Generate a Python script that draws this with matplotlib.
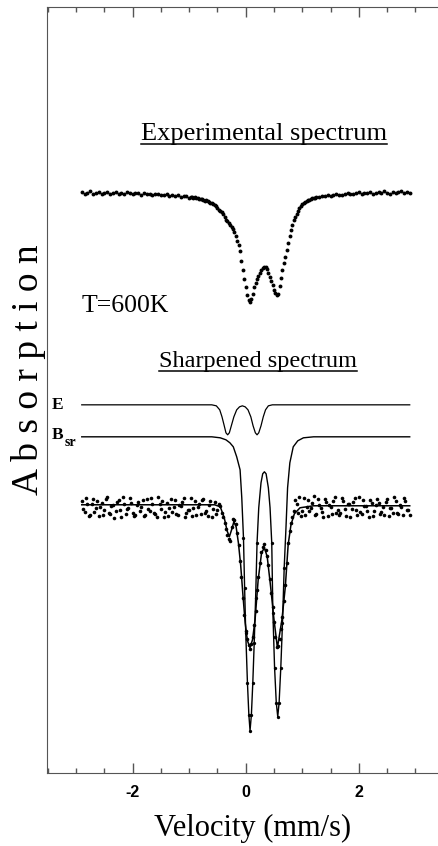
import matplotlib
matplotlib.use("Agg")
import matplotlib.pyplot as plt
from matplotlib.ticker import MultipleLocator
import numpy as np

plt.rcParams['font.family'] = ['Liberation Serif', 'DejaVu Serif']
plt.rcParams['axes.unicode_minus'] = False

#Data##########################################################################
# velocity channels (mm/s), two interleaved sweeps
vel_a = np.round(np.linspace(-2.9, 2.9, 117), 3)
vel_b = np.round(np.linspace(-2.875, 2.875, 116), 3)
vel_exp_fine = np.round(np.linspace(-0.975, 1.225, 45), 3)

# experimental spectrum, T=600K (arbitrary absorption units)
exp_abs_a = [58.1, 57.9, 58.0, 58.2, 57.9, 58.0, 58.1, 57.9, 58.0, 58.1,
             57.9, 58.0, 58.1, 57.9, 58.0, 57.9, 58.1, 58.0, 57.9, 58.0,
             58.0, 57.8, 58.0, 57.9, 57.9, 57.8, 57.9, 57.9, 57.8, 57.8,
             57.9, 57.7, 57.8, 57.7, 57.8, 57.6, 57.7, 57.7, 57.5,
             57.6, 57.6, 57.5, 57.4, 57.3, 57.3, 57.1, 57.0, 56.8, 56.5,
             56.2, 55.9, 55.3, 55.0, 54.6, 54.1, 53.2, 52.2, 50.3, 48.6,
             47.3, 47.4, 48.6, 49.4, 50.0, 50.5, 50.6, 50.0, 49.2, 48.3,
             47.8, 48.7, 50.3, 51.6, 53.0, 54.3, 55.3, 55.9, 56.5, 56.9,
             57.1, 57.3, 57.4, 57.5, 57.6,
             57.6, 57.7, 57.7, 57.8, 57.7, 57.8, 57.9, 57.8, 57.8, 57.9,
             58.0, 57.9, 57.9, 58.0, 58.1, 57.9, 58.0, 58.0, 58.1, 57.9,
             58.0, 58.1, 58.0, 58.2, 58.0, 57.9, 58.1, 58.0, 58.1, 58.2,
             58.0, 58.1, 58.0]
exp_abs_fine = [57.6, 57.5, 57.5, 57.4, 57.4, 57.2, 57.2, 57.0, 56.9, 56.7,
                56.3, 56.1, 55.6, 55.2, 54.8, 54.4, 53.7, 52.8, 51.2, 49.4,
                47.8, 47.1, 47.9, 49.0, 49.7, 50.3, 50.6, 50.4, 49.6, 48.8,
                48.0, 47.9, 49.5, 51.0, 52.3, 53.7, 54.8, 55.6, 56.2, 56.7,
                57.0, 57.2, 57.3, 57.5, 57.5]

# sharpened spectrum data points
sharp_abs_a = [27.2, 26.1, 26.9, 25.8, 27.4, 26.5, 25.7, 27.0, 26.3, 27.6,
               25.9, 26.8, 26.2, 27.3, 25.6, 26.9, 26.4, 27.5, 26.0, 25.8,
               27.1, 26.6, 25.7, 27.4, 26.2, 26.9, 25.9, 27.6, 26.4, 25.6,
               27.0, 26.5, 26.1, 27.3, 25.8, 26.7, 27.5, 26.0, 26.3, 25.7,
               27.2, 26.6, 25.9, 27.4, 26.2, 26.8, 25.6, 27.1,
               26.3, 26.7, 25.6, 24.4, 23.4, 24.6, 25.3, 24.0, 21.2, 17.5,
               14.2, 12.8, 12.9, 14.8, 18.3, 21.0, 22.6, 22.3, 20.8, 18.0,
               15.1, 12.6, 13.4, 15.6, 18.8, 23.0, 25.0, 26.2,
               26.9, 27.6, 26.2, 25.8, 27.3, 26.5, 27.7, 25.9, 26.8, 26.1,
               27.4, 25.7, 26.6, 27.2, 26.0, 25.8, 27.5, 26.4, 26.9, 25.6,
               27.1, 26.3, 27.6, 25.9, 26.7, 26.2, 27.3, 25.7, 26.8, 27.0,
               26.1, 25.8, 27.4, 26.5, 26.0, 27.2, 25.9, 26.6, 27.5, 26.3,
               25.8]
sharp_abs_b = [26.4, 27.5, 25.7, 26.9, 26.1, 27.2, 26.6, 25.8, 27.4, 26.0,
               26.7, 25.5, 27.1, 26.3, 27.6, 25.9, 26.5, 27.0, 25.7, 26.8,
               26.2, 27.3, 25.8, 26.4, 27.5, 26.0, 25.6, 26.9, 27.2, 26.1,
               25.7, 27.4, 26.6, 25.9, 26.8, 27.1, 25.6, 26.3, 27.5, 26.5,
               25.8, 26.9, 27.3, 26.0, 25.7, 27.2, 26.4, 25.9,
               26.9, 26.0, 25.0, 23.8, 23.2, 25.4, 24.9, 22.8, 19.6, 15.8,
               13.4, 12.4, 13.6, 16.2, 19.6, 22.1, 22.9, 21.7, 19.4, 16.6,
               13.6, 12.7, 14.4, 17.2, 21.0, 24.2, 25.6,
               27.3, 26.0, 25.7, 27.5, 26.6, 26.2, 27.0, 25.8, 27.4, 26.5,
               25.6, 27.1, 26.8, 25.9, 27.6, 26.3, 26.0, 27.2, 25.7, 26.9,
               26.4, 27.5, 25.8, 26.1, 27.3, 26.7, 25.6, 27.0, 26.2, 27.4,
               25.9, 26.6, 27.1, 25.7, 26.5, 27.6, 26.0, 26.8, 25.8, 27.2,
               26.3]

# fit through the sharpened data
fit_vel = [-2.9, -0.55, -0.45, -0.38, -0.33, -0.29, -0.25, -0.21, -0.17, -0.13,
           -0.09, -0.05, -0.01, 0.03, 0.076, 0.12, 0.165, 0.22, 0.28, 0.33,
           0.38, 0.44, 0.50, 0.56, 0.64, 0.70, 0.75, 0.80, 0.86, 0.96, 1.2, 2.9]
fit_abs = [26.8, 26.8, 26.6, 25.5, 24.2, 23.6, 24.3, 25.1, 24.6, 23.0,
           20.8, 17.8, 15.0, 13.2, 12.5, 13.3, 15.3, 19.3, 22.0, 22.5,
           21.6, 18.6, 15.3, 12.5, 15.3, 18.6, 22.8, 24.8, 25.9, 26.5, 26.7, 26.7]

# component E
E_vel = [-2.9, -0.60, -0.52, -0.46, -0.42, -0.38, -0.35, -0.32, -0.29, -0.25,
         -0.21, -0.16, -0.11, -0.06, -0.01, 0.04, 0.09, 0.13, 0.17, 0.20,
         0.23, 0.27, 0.31, 0.35, 0.40, 0.47, 2.9]
E_abs = [36.8, 36.8, 36.7, 36.3, 35.6, 34.7, 34.0, 33.8, 34.0, 34.8,
         35.6, 36.3, 36.6, 36.7, 36.6, 36.3, 35.6, 34.7, 34.0, 33.8,
         34.0, 34.7, 35.6, 36.3, 36.7, 36.8, 36.8]

# component Bsr
Bsr_vel = [-2.9, -0.60, -0.45, -0.35, -0.28, -0.22, -0.16, -0.10, -0.07, -0.04,
           -0.02, 0.00, 0.03, 0.055, 0.076, 0.10, 0.125, 0.15, 0.175, 0.20,
           0.23, 0.27, 0.30, 0.33, 0.36, 0.40, 0.43, 0.46, 0.48, 0.51,
           0.54, 0.566, 0.59, 0.62, 0.65, 0.68, 0.71, 0.74, 0.78, 0.84,
           0.92, 1.02, 1.2, 2.9]
Bsr_abs = [33.6, 33.6, 33.5, 33.3, 33.0, 32.6, 31.6, 30.3, 27.5, 23.5,
           18.5, 14.0, 9.0, 5.8, 4.2, 5.8, 9.0, 13.0, 17.5, 23.0,
           26.5, 29.0, 29.9, 30.1, 29.9, 28.5, 26.5, 23.0, 16.0, 10.5,
           7.0, 5.6, 7.0, 10.5, 15.0, 20.5, 24.3, 28.5, 31.0, 32.6,
           33.2, 33.5, 33.6, 33.6]

#Plot##########################################################################
fig = plt.figure(figsize=(4.38, 8.46), dpi=100)
ax = fig.add_axes([0.1066, 0.0867, 0.8934, 0.905])

ax.plot(vel_a, exp_abs_a, 'o', ms=2.8, mew=0, color='black')
ax.plot(vel_exp_fine, exp_abs_fine, 'o', ms=2.8, mew=0, color='black')

ax.plot(E_vel, E_abs, color='black', lw=0.9)
deep = [i for i, a in enumerate(Bsr_abs) if a < 24]
ax.plot(Bsr_vel, Bsr_abs, color='black', lw=1.0,
        marker='o', ms=2.4, mew=0, markevery=deep)

ax.plot(vel_a, sharp_abs_a, 'o', ms=2.6, mew=0, color='black')
ax.plot(vel_b, sharp_abs_b, 'o', ms=2.6, mew=0, color='black')
ax.plot(fit_vel, fit_abs, color='black', lw=1.1)

ax.set_xlim(-3.52, 3.40)
ax.set_ylim(0, 76.6)

ax.set_xticks([-2, 0, 2])
ax.set_xticklabels(['-2', '0', '2'], fontfamily='Liberation Sans',
                   fontweight='bold', fontsize=11.5)
ax.xaxis.set_minor_locator(MultipleLocator(0.5))
ax.tick_params(axis='x', which='major', direction='in', length=7, width=1,
               top=True, color='#555555', pad=9)
ax.tick_params(axis='x', which='minor', direction='in', length=3.5, width=1,
               top=True, color='#555555')
ax.set_yticks([])
for side in ['left', 'bottom', 'top']:
    ax.spines[side].set_color('#555555')
ax.spines['right'].set_visible(False)

ax.set_xlabel('Velocity (mm/s)', fontsize=22)
ax.xaxis.set_label_coords(0.525, -0.054)
fig.text(29 / 438, 1 - 370 / 846, 'A b s o r p t i o n', fontsize=27,
         rotation=90, ha='center', va='center')

ax.text(-2.9, 46.1, 'T=600K', fontsize=18.5)
ax.text(-3.44, 36.8, 'E', fontsize=12.5, fontweight='bold', va='center')
ax.text(-3.43, 33.8, 'B', fontsize=12.5, fontweight='bold', va='center')
ax.text(-3.21, 33.0, 'sr', fontsize=10, fontweight='bold', va='center')

# underlined headings
fig.canvas.draw()
for x, y, s, size in [(-1.85, 63.3, 'Experimental spectrum', 19),
                      (-1.54, 40.6, 'Sharpened spectrum', 17.5)]:
    t = ax.text(x, y, s, fontsize=size, ha='left', va='baseline')
    bb = t.get_window_extent(fig.canvas.get_renderer())
    bb = bb.transformed(ax.transData.inverted())
    ax.plot([bb.x0, bb.x1], [y - 0.45, y - 0.45], color='black', lw=1.1)

fig.savefig('out.png', dpi=100)
